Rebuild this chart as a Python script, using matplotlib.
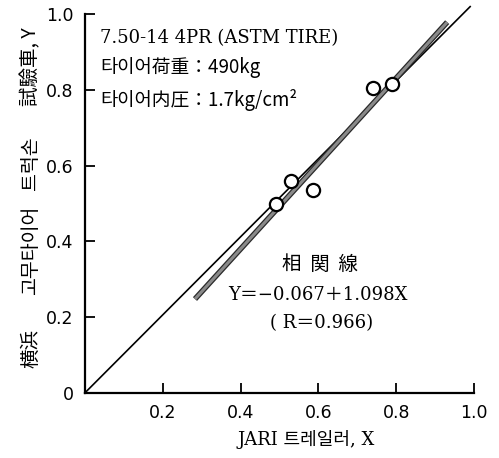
import numpy as np
import matplotlib.pyplot as plt

# measured points (JARI trailer X vs Yokohama truck Y)
jari_x = [0.49, 0.53, 0.585, 0.74, 0.79]
truck_y = [0.50, 0.56, 0.535, 0.805, 0.815]

# regression line Y = -0.067 + 1.098X, ends as drawn in the figure
fit_x = [0.283, 0.931]
fit_y = [0.248, 0.979]

# 1:1 reference line
ref_x = [0.0, 0.99]
ref_y = [0.0, 1.02]

ticks = [0.2, 0.4, 0.6, 0.8, 1.0]
tick_labels = ["0.2", "0.4", "0.6", "0.8", "1.0"]

plt.rcParams['font.family'] = ['DejaVu Sans', 'Noto Sans CJK KR']
serif = ['DejaVu Serif', 'Noto Sans CJK KR']
cjk = ['Noto Sans CJK KR', 'DejaVu Sans']

fig = plt.figure(figsize=(4.99, 4.58), dpi=100)
ax = fig.add_axes([0.170, 0.142, 0.780, 0.827])

ax.plot(ref_x, ref_y, color="black", lw=1.2, clip_on=False)
ax.plot(fit_x, fit_y, color="#2a2a2a", lw=4.0, solid_capstyle="butt")
ax.plot(fit_x, fit_y, color="#8a8a8a", lw=2.2, solid_capstyle="butt")
ax.plot(jari_x, truck_y, "o", ms=9.5, mfc="white", mec="black", mew=1.6, zorder=5)

ax.set_xlim(0, 1)
ax.set_ylim(0, 1)
ax.spines["top"].set_visible(False)
ax.spines["right"].set_visible(False)
ax.spines["left"].set_linewidth(1.6)
ax.spines["bottom"].set_linewidth(1.6)
ax.set_xticks(ticks)
ax.set_xticklabels(tick_labels)
ax.set_yticks([0] + ticks)
ax.set_yticklabels(["0"] + tick_labels)
ax.tick_params(direction="in", length=7, width=1.3, labelsize=12.5, pad=8)

ax.text(0.039, 0.937, "7.50-14 4PR (ASTM TIRE)", fontsize=13, family=serif, va="center")
ax.text(0.039, 0.860, "타이어荷重：490kg", fontsize=13.5, family=cjk, va="center")
ax.text(0.039, 0.773, "타이어内圧：1.7kg/cm²", fontsize=13.5, family=cjk, va="center")

ax.text(0.604, 0.338, "相  関  線", fontsize=14, ha="center", va="center", family=cjk)
ax.text(0.599, 0.259, "Y＝−0.067＋1.098X", fontsize=13, ha="center", va="center", family=serif)
ax.text(0.609, 0.185, "( R＝0.966)", fontsize=13, ha="center", va="center", family=serif)

fig.text(0.613, 0.040, "JARI 트레일러, X", fontsize=13, ha="center", va="center", family=serif)

# vertical y label, placed in pieces like the original
ylabel_parts = ["横浜", "고무타이어", "트럭손", "試驗車, Y"]
ylabel_pos = [348, 250, 163, 67]
for part, py in zip(ylabel_parts, ylabel_pos):
    fig.text(0.062, (458 - py) / 458, part, fontsize=14, rotation=90,
             ha="center", va="center", family=cjk)

fig.savefig("out.png", dpi=100)
